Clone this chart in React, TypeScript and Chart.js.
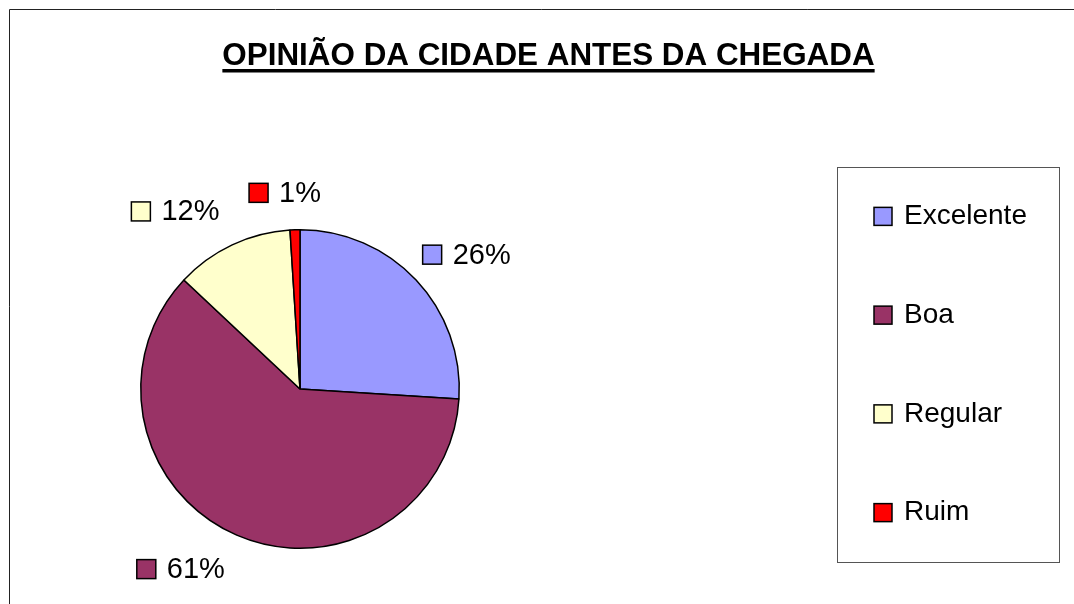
import React, { useEffect, useRef } from "react";
import { Chart, registerables } from "chart.js";

Chart.register(...registerables);

const TITLE = "OPINIÃO DA CIDADE ANTES DA CHEGADA";
const categories = ["Excelente", "Boa", "Regular", "Ruim"];
const values = [26, 61, 12, 1];
const colors = ["#9999FF", "#993366", "#FFFFCC", "#FF0000"];

const W = 1074;
const H = 604;
const FONT = '"Liberation Sans", Arial, sans-serif';

const decorPlugin = {
  id: "decor",
  afterDraw(chart: any) {
    const ctx = chart.ctx as CanvasRenderingContext2D;
    ctx.save();
    // outer frame (top & left)
    ctx.strokeStyle = "#222";
    ctx.lineWidth = 1;
    ctx.beginPath();
    ctx.moveTo(9.5, H);
    ctx.lineTo(9.5, 9.5);
    ctx.lineTo(W, 9.5);
    ctx.stroke();

    // title
    ctx.fillStyle = "#000";
    ctx.font = `bold 31.4px ${FONT}`;
    ctx.textAlign = "center";
    ctx.textBaseline = "alphabetic";
    const tcx = 548.5;
    ctx.fillText(TITLE, tcx, 65);
    const tw = ctx.measureText(TITLE).width;
    ctx.fillRect(tcx - tw / 2, 69, tw, 3.5);

    // percentage labels
    const meta = chart.getDatasetMeta(0);
    const total = values.reduce((a, b) => a + b, 0);
    ctx.font = `29px ${FONT}`;
    ctx.textAlign = "left";
    ctx.textBaseline = "middle";
    meta.data.forEach((arc: any, i: number) => {
      const p = arc.getProps(["x", "y", "startAngle", "endAngle", "outerRadius"], true);
      const mid = (p.startAngle + p.endAngle) / 2;
      const cx = Math.cos(mid);
      const sy = Math.sin(mid);
      const txt = Math.round((values[i] / total) * 100) + "%";
      const tW = ctx.measureText(txt).width;
      const boxW = 19 + 11 + tW;
      const hw = boxW / 2;
      const hh = 28;
      const gx = cx > 0 ? 9 : 30;
      const ax = p.x + (p.outerRadius + gx) * cx;
      const ay = p.y + (p.outerRadius + 9) * sy;
      const bx = ax + hw * Math.sign(cx) * Math.min(1, Math.abs(cx) * 8);
      const by = ay + hh * sy;
      const left = bx - hw;
      ctx.fillStyle = colors[i];
      ctx.fillRect(left, by - 9.5, 19, 19);
      ctx.strokeStyle = "#000";
      ctx.lineWidth = 1.5;
      ctx.strokeRect(left, by - 9.5, 19, 19);
      ctx.fillStyle = "#000";
      ctx.fillText(txt, left + 30, by + 1);
    });

    // legend box
    const lx = 837, ly = 167, lw = 222, lh = 395;
    ctx.strokeStyle = "#555";
    ctx.lineWidth = 1;
    ctx.strokeRect(lx + 0.5, ly + 0.5, lw, lh);
    const slot = lh / categories.length;
    categories.forEach((c, i) => {
      const yc = ly + slot * (i + 0.5);
      ctx.fillStyle = colors[i];
      ctx.fillRect(874, yc - 9, 18, 18);
      ctx.strokeStyle = "#000";
      ctx.lineWidth = 1.5;
      ctx.strokeRect(874, yc - 9, 18, 18);
      ctx.fillStyle = "#000";
      ctx.font = `28px ${FONT}`;
      ctx.fillText(c, 904, yc);
    });
    ctx.restore();
  },
};

export default function App() {
  const ref = useRef<HTMLCanvasElement | null>(null);
  useEffect(() => {
    if (!ref.current) return;
    const chart = new Chart(ref.current, {
      type: "pie",
      data: {
        labels: categories,
        datasets: [
          {
            data: values,
            backgroundColor: colors,
            borderColor: "#000",
            borderWidth: 1.5,
          },
        ],
      },
      options: {
        responsive: false,
        animation: false,
        rotation: 0,
        layout: { padding: { left: 140, right: 614, top: 229, bottom: 55 } },
        plugins: {
          legend: { display: false },
          title: { display: false },
          tooltip: { enabled: false },
        },
      },
      plugins: [decorPlugin],
    });
    return () => chart.destroy();
  }, []);
  return (
    <div style={{ position: "absolute", left: 0, top: 0, width: W, height: H, background: "#fff" }}>
      <canvas ref={ref} width={W} height={H} style={{ display: "block" }} />
    </div>
  );
}
